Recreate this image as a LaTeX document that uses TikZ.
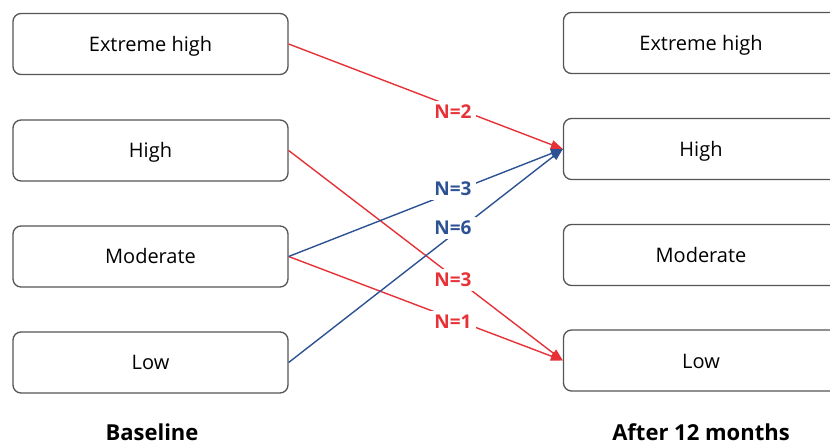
\documentclass[tikz,border=0pt]{standalone}
\usepackage{fontspec}
\setmainfont{Open Sans}
\usetikzlibrary{arrows.meta}
\definecolor{lred}{RGB}{230,50,55}
\definecolor{lblue}{RGB}{45,82,148}
\definecolor{boxgray}{RGB}{85,85,85}
\tikzset{
  catbox/.style={draw=boxgray, line width=1.3pt, rounded corners=8pt, fill=white,
    minimum width=275pt, minimum height=61pt, inner sep=0pt, text height=15pt, text depth=0pt,
    font=\fontsize{20}{22}\selectfont},
  redline/.style={draw=lred, line width=1.4pt, -{Triangle[length=12pt,width=9pt]}},
  blueline/.style={draw=lblue, line width=1.4pt, -{Triangle[length=12pt,width=9pt]}},
  nlab/.style={fill=white, inner sep=4pt, font=\bfseries\fontsize{19}{21}\selectfont},
  axlab/.style={font=\bfseries\fontsize{22}{24}\selectfont, anchor=base, inner sep=0pt, text depth=0pt}
}
\begin{document}
\begin{tikzpicture}[x=1pt,y=-1pt]
\useasboundingbox (0,0) rectangle (830,446);
% left column
\node[catbox] (L1) at (150.5,44) {Extreme high};
\node[catbox] (L2) at (150.5,150.5) {High};
\node[catbox] (L3) at (150.5,256.5) {Moderate};
\node[catbox] (L4) at (150.5,362.5) {Low};
% right column
\node[catbox] (R1) at (701,43) {Extreme high};
\node[catbox] (R2) at (701,149) {High};
\node[catbox] (R3) at (701,255) {Moderate};
\node[catbox] (R4) at (701,360.5) {Low};
% connectors
\draw[redline] (L1.east) -- (R2.west);
\draw[redline] (L2.east) -- (R4.west);
\draw[redline] (L3.east) -- (R4.west);
\draw[blueline] (L3.east) -- (R2.west);
\draw[blueline] (L4.east) -- (R2.west);
% labels
\node[nlab, text=lred] (n2) at (453,112) {N=2};
\node[nlab, text=lblue] (n3b) at (453,189) {N=3};
\node[nlab, text=lblue] (n6) at (453,228) {N=6};
\node[nlab, text=lred] (n3r) at (453,280) {N=3};
\node[nlab, text=lred] (n1) at (453,322) {N=1};
% axis captions
\node[axlab] (base) at (152,440) {Baseline};
\node[axlab] (after) at (701,440) {After 12 months};
\end{tikzpicture}
\end{document}
